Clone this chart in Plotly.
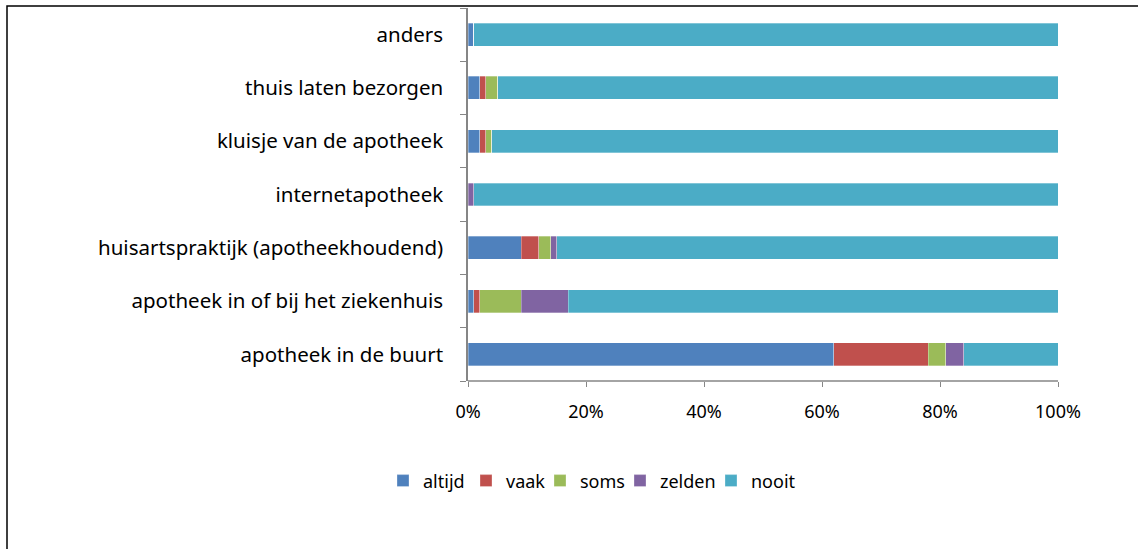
import plotly.graph_objects as go

categories = ["apotheek in de buurt", "apotheek in of bij het ziekenhuis",
              "huisartspraktijk (apotheekhoudend)", "internetapotheek",
              "kluisje van de apotheek", "thuis laten bezorgen", "anders"]
series_names = ["altijd", "vaak", "soms", "zelden", "nooit"]
altijd = [62, 1, 9, 0, 2, 2, 1]
vaak = [16, 1, 3, 0, 1, 1, 0]
soms = [3, 7, 2, 0, 1, 2, 0]
zelden = [3, 8, 1, 1, 0, 0, 0]
nooit = [16, 83, 85, 99, 96, 95, 99]
tick_vals = [0, 0.2, 0.4, 0.6, 0.8, 1.0]
tick_text = ["0%", "20%", "40%", "60%", "80%", "100%"]

colors = ["#4F81BD", "#C0504D", "#9BBB59", "#8064A2", "#4BACC6"]
values = [altijd, vaak, soms, zelden, nooit]
# left pixel position of each legend swatch in the reference
legend_px = [397, 480, 554, 634, 725]

fig = go.Figure()
legend_layouts = {}
for i, (name, vals, col) in enumerate(zip(series_names, values, colors)):
    lg = "legend" if i == 0 else f"legend{i + 1}"
    fig.add_trace(go.Bar(
        y=categories, x=[v / 100 for v in vals], name=name, orientation="h",
        legend=lg,
        marker=dict(color=col, line=dict(color="rgba(255,255,255,0.6)", width=0.5)),
    ))
    legend_layouts[lg] = dict(
        orientation="h", xref="container", yref="container",
        x=(legend_px[i] - 14) / 1138, y=0.124, xanchor="left", yanchor="middle",
        font=dict(size=18), itemwidth=30, bgcolor="rgba(0,0,0,0)")

font_family = "Noto Sans, Open Sans, sans-serif"
fig.update_layout(
    barmode="stack",
    bargap=0.57,
    width=1138, height=549,
    margin=dict(l=468, r=80, t=8, b=168),
    paper_bgcolor="white", plot_bgcolor="white",
    font=dict(family=font_family, color="#000000", size=18),
    showlegend=True,
    xaxis=dict(range=[0, 1], tickvals=tick_vals, ticktext=tick_text,
               showgrid=False, zeroline=False, showline=False,
               ticks="outside", ticklen=5, tickcolor="#868686",
               tickfont=dict(size=18), ticklabelstandoff=9, fixedrange=True),
    yaxis=dict(categoryorder="array", categoryarray=categories,
               showgrid=False, zeroline=False, showline=True,
               linecolor="#868686", linewidth=1.5,
               ticks="outside", tickson="boundaries", ticklen=6,
               tickcolor="#868686", tickfont=dict(size=20.5),
               ticklabelstandoff=19),
    shapes=[
        dict(type="line", xref="paper", yref="paper", x0=0, x1=1.0, y0=0, y1=0,
             line=dict(color="#868686", width=1.5)),
        dict(type="rect", xref="paper", yref="paper",
             x0=(7 - 468) / 590, x1=(1150 - 468) / 590,
             y0=(381 - 560) / 373, y1=(381 - 6) / 373,
             line=dict(color="black", width=1.5), fillcolor="rgba(0,0,0,0)"),
    ],
    **legend_layouts,
)
fig.write_html("out.html", config={"displayModeBar": False},
               post_script="document.body.style.margin='0';document.body.style.overflow='hidden';")
